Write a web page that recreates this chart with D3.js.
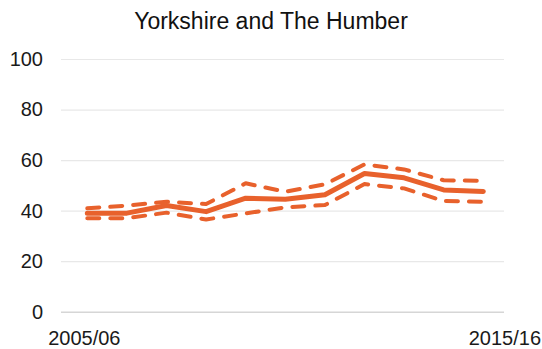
<!DOCTYPE html>
<html>
<head>
<meta charset="utf-8">
<script src="https://cdn.jsdelivr.net/npm/d3@7"></script>
<style>
  html, body { margin: 0; padding: 0; background: #fff; }
  svg { display: block; font-family: "Liberation Sans", Arial, Helvetica, sans-serif; }
</style>
</head>
<body>
<svg id="chart" width="542" height="349"></svg>
<script>
// Yearly estimate with its upper and lower confidence bounds
const years = ["2005/06", "2006/07", "2007/08", "2008/09", "2009/10", "2010/11",
               "2011/12", "2012/13", "2013/14", "2014/15", "2015/16"];
const estimate = [39.0, 39.0, 42.0, 39.6, 44.9, 44.5, 46.3, 54.7, 53.0, 48.2, 47.6];
const upper    = [40.9, 42.0, 43.5, 42.6, 50.8, 47.5, 50.4, 58.3, 56.3, 52.0, 51.8];
const lower    = [37.0, 37.0, 39.2, 36.5, 38.9, 41.3, 42.2, 50.5, 48.8, 43.8, 43.5];
const yTicks = [0, 20, 40, 60, 80, 100];
const xLabels = ["2005/06", "2015/16"];
const title = "Yorkshire and The Humber";

const svg = d3.select("#chart");
const color = "#e8612c";

const x = d3.scalePoint().domain(years).range([87.3, 483.3]);
const y = d3.scaleLinear().domain([0, 100]).range([311.7, 59]);

// Title
svg.append("text")
  .attr("x", 271).attr("y", 29)
  .attr("text-anchor", "middle")
  .attr("font-size", 23)
  .attr("fill", "#111")
  .text(title);

// Horizontal gridlines and value labels
const yAxis = d3.axisLeft(y).tickValues(yTicks).tickSize(-443).tickPadding(18);
const gy = svg.append("g").attr("transform", "translate(61,0)").call(yAxis);
gy.select(".domain").remove();
gy.selectAll(".tick line")
  .attr("stroke", d => d === 0 ? "#d6d6d6" : "#e8e8e8")
  .attr("stroke-width", d => d === 0 ? 1.6 : 1.2);
gy.selectAll(".tick text")
  .attr("font-size", 20)
  .attr("fill", "#1a1a1a")
  .attr("font-family", "\"Liberation Sans\", Arial, sans-serif");

// Category labels at the ends of the axis
svg.append("text")
  .attr("x", x(xLabels[0]) - 3).attr("y", 345)
  .attr("text-anchor", "middle")
  .attr("font-size", 20).attr("fill", "#1a1a1a")
  .text(xLabels[0]);
svg.append("text")
  .attr("x", 541).attr("y", 345)
  .attr("text-anchor", "end")
  .attr("font-size", 20).attr("fill", "#1a1a1a")
  .text(xLabels[1]);

const line = d3.line()
  .x((d, i) => x(years[i]))
  .y(d => y(d));

// Confidence bounds (dashed)
[upper, lower].forEach(series => {
  svg.append("path")
    .datum(series)
    .attr("d", line)
    .attr("fill", "none")
    .attr("stroke", color)
    .attr("stroke-width", 4)
    .attr("stroke-linecap", "round")
    .attr("stroke-linejoin", "round")
    .attr("stroke-dasharray", "12 11");
});

// Central estimate (solid)
svg.append("path")
  .datum(estimate)
  .attr("d", line)
  .attr("fill", "none")
  .attr("stroke", color)
  .attr("stroke-width", 5)
  .attr("stroke-linecap", "round")
  .attr("stroke-linejoin", "round");
</script>
</body>
</html>
